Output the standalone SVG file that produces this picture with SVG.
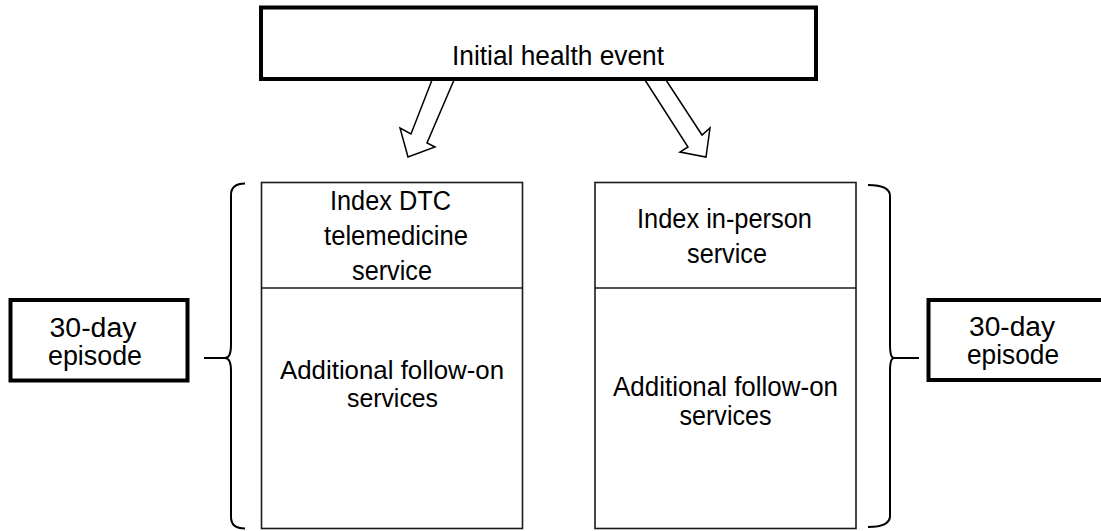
<svg xmlns="http://www.w3.org/2000/svg" width="1101" height="531" viewBox="0 0 1101 531">
  <style>
    .lbl { font-family: "Liberation Sans", Arial, sans-serif; font-size: 27px; fill: #000; text-anchor: middle; }
    .lbl.tight { font-size: 25px; }
    .thick { fill: #fff; stroke: #000; stroke-width: 4; }
    .thin { fill: #fff; stroke: #1a1a1a; stroke-width: 1.6; }
    .brace { fill: none; stroke: #000; stroke-width: 2; }
    .blockarrow { fill: #fff; stroke: #000; stroke-width: 1.5; stroke-linejoin: miter; }
  </style>
  <rect width="1101" height="531" fill="#fff"/>

  <!-- connectors: block arrows from the event box and the episode braces -->
  <g id="connectors">
    <polygon class="blockarrow" points="432,80 411,134 400,128 408,157 435,147 427,143 454,80"/>
    <polygon class="blockarrow" points="645,80 688,147 680,152 706,157 710,128 702,135 666,80"/>
    <path class="brace" d="M245,183.5 Q231,183.5 231,195 L231,345 Q231,358 225,358 Q231,358 231,371 L231,517 Q231,528.5 245,528.5"/>
    <line class="brace" x1="204" y1="358" x2="226" y2="358"/>
    <path class="brace" d="M868,185 Q890,185 890,196 L890,345 Q890,358 894,358 Q890,358 890,371 L890,516 Q890,527 868,527"/>
    <line class="brace" x1="893" y1="358" x2="919" y2="358"/>
  </g>

  <g id="initial-event">
    <rect class="thick" x="261" y="7.5" width="555" height="71.5"/>
    <text class="lbl" x="558" y="65" textLength="212" lengthAdjust="spacingAndGlyphs">Initial health event</text>
  </g>

  <g id="dtc-column">
    <rect class="thin" x="261.5" y="182.5" width="261" height="346"/>
    <line class="thin" x1="261.5" y1="288" x2="522.5" y2="288"/>
    <text class="lbl" x="390.5" y="210" textLength="121" lengthAdjust="spacingAndGlyphs">Index DTC</text>
    <text class="lbl" x="396" y="245" textLength="144" lengthAdjust="spacingAndGlyphs">telemedicine</text>
    <text class="lbl" x="392" y="280" textLength="80" lengthAdjust="spacingAndGlyphs">service</text>
    <text class="lbl tight" x="392" y="379" textLength="224" lengthAdjust="spacingAndGlyphs">Additional follow-on</text>
    <text class="lbl tight" x="392.5" y="407" textLength="91" lengthAdjust="spacingAndGlyphs">services</text>
  </g>

  <g id="inperson-column">
    <rect class="thin" x="595" y="182.5" width="261" height="346"/>
    <line class="thin" x1="595" y1="288" x2="856" y2="288"/>
    <text class="lbl" x="724.5" y="228" textLength="175" lengthAdjust="spacingAndGlyphs">Index in-person</text>
    <text class="lbl" x="727" y="263" textLength="80" lengthAdjust="spacingAndGlyphs">service</text>
    <text class="lbl" x="725.5" y="396" textLength="225" lengthAdjust="spacingAndGlyphs">Additional follow-on</text>
    <text class="lbl" x="725.5" y="425" textLength="92" lengthAdjust="spacingAndGlyphs">services</text>
  </g>

  <g id="episode-left">
    <rect class="thick" x="10.5" y="300" width="177" height="80.5"/>
    <text class="lbl" x="93" y="337" textLength="87" lengthAdjust="spacingAndGlyphs">30-day</text>
    <text class="lbl" x="95" y="365" textLength="94" lengthAdjust="spacingAndGlyphs">episode</text>
  </g>

  <g id="episode-right">
    <rect class="thick" x="928.5" y="300" width="177" height="80"/>
    <text class="lbl" x="1012" y="336" textLength="86" lengthAdjust="spacingAndGlyphs">30-day</text>
    <text class="lbl" x="1013" y="364" textLength="92" lengthAdjust="spacingAndGlyphs">episode</text>
  </g>
</svg>
